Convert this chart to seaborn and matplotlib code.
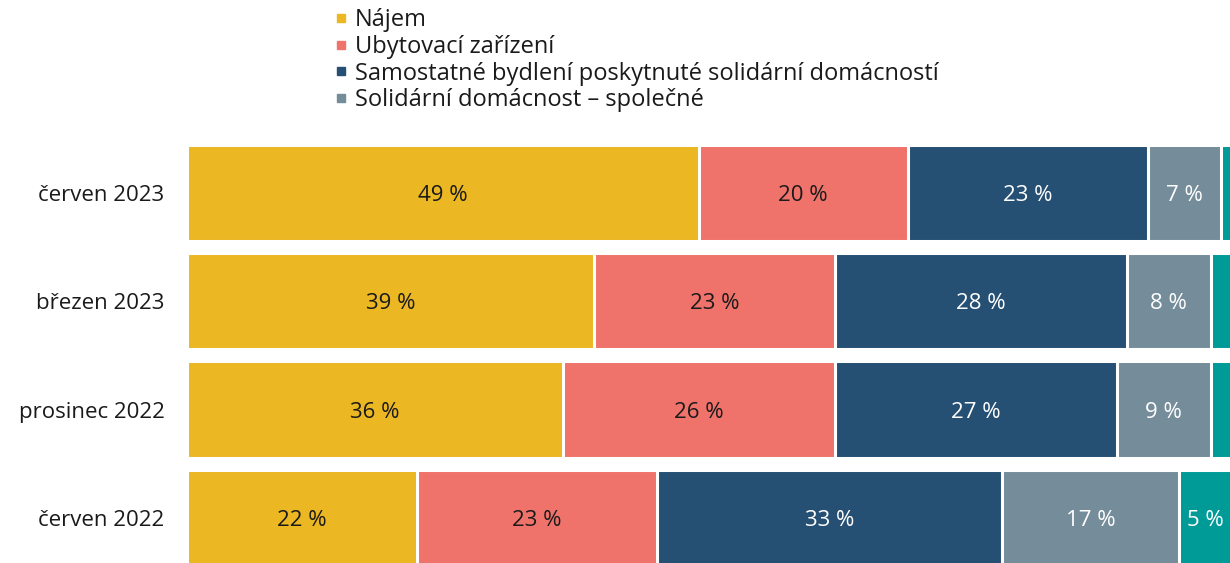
import numpy as np
import pandas as pd
import matplotlib
matplotlib.use("Agg")
import matplotlib.pyplot as plt
from matplotlib.lines import Line2D
import seaborn as sns

categories = ["červen 2023", "březen 2023", "prosinec 2022", "červen 2022"]
series_names = ["Nájem", "Ubytovací zařízení",
                "Samostatné bydlení poskytnuté solidární domácností",
                "Solidární domácnost – společné", ""]
najem = [49, 39, 36, 22]
ubytovaci = [20, 23, 26, 23]
samostatne = [23, 28, 27, 33]
spolecne = [7, 8, 9, 17]
ostatni = [1, 2, 2, 5]
colors = ["#EBB723", "#EF736B", "#265073", "#758C9A", "#009A97"]
label_colors = ["#1a1a1a", "#1a1a1a", "white", "white", "white"]

sns.set_theme(style="white")
plt.rcParams["font.family"] = ["Open Sans", "DejaVu Sans"]

W, H = 1230, 563
fig = plt.figure(figsize=(W / 100, H / 100), dpi=100)
ax = fig.add_axes([186.6 / W, 1 - 572 / H, 1045 / W, (572 - 138.75) / H])

series = [najem, ubytovaci, samostatne, spolecne, ostatni]
cums = np.cumsum(np.array(series, dtype=float), axis=0)

# draw cumulative bars from largest to smallest so segments stack
for i in range(len(series) - 1, -1, -1):
    df = pd.DataFrame({"cat": categories, "val": cums[i]})
    sns.barplot(data=df, x="val", y="cat", orient="h", color=colors[i],
                saturation=1, width=0.89, edgecolor="white", linewidth=2.2,
                ax=ax, order=categories)

for i, vals in enumerate(series):
    starts = cums[i] - np.array(vals)
    for j, v in enumerate(vals):
        if v < 5:
            continue
        ax.text(starts[j] + v / 2, j, f"{v} %", ha="center",
                va="center_baseline", fontsize=16, color=label_colors[i])

ax.set_xlim(0, 100)
ax.set_ylim(3.5, -0.5)
ax.set_xlabel("")
ax.set_ylabel("")
ax.set_xticks([])
ax.tick_params(axis="y", length=0, pad=16, labelsize=16, labelcolor="#1a1a1a")
for s in ax.spines.values():
    s.set_visible(False)

handles = [Line2D([0], [0], marker="s", linestyle="none", markersize=6,
                  markerfacecolor=colors[i], markeredgecolor=colors[i])
           for i in range(4)]
fig.legend(handles, series_names[:4], loc="upper left",
           bbox_to_anchor=(335 / W, 1 - 8 / H), frameon=False,
           fontsize=17, handlelength=0.5, handletextpad=0.35,
           labelspacing=0.12, borderpad=0, borderaxespad=0,
           labelcolor="#1a1a1a")

fig.savefig("out.png", dpi=100)
